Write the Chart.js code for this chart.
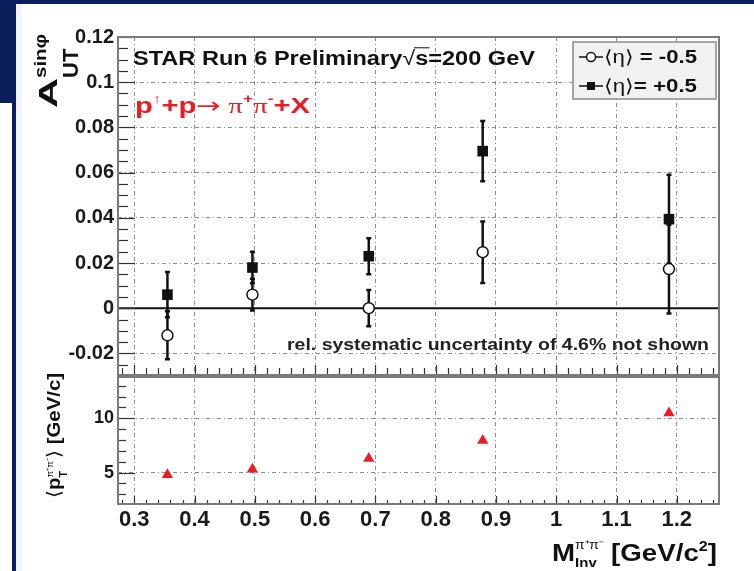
<!DOCTYPE html>
<html>
<head>
<meta charset="utf-8">
<script src="https://cdn.jsdelivr.net/npm/chart.js@4.4.1/dist/chart.umd.min.js"></script>
<style>
  html, body { margin: 0; padding: 0; background: #fff; }
  canvas { display: block; }
</style>
</head>
<body>
<canvas id="asym" width="754" height="571"></canvas>
<script>
// ---- data ----
const massBins = [0.355, 0.496, 0.689, 0.878, 1.187];          // M_inv [GeV/c^2]
const etaLabels = ["\u27E8\u03B7\u27E9 = -0.5", "\u27E8\u03B7\u27E9= +0.5"];
const aUTBackward = [-0.012, 0.006, 0.000, 0.0248, 0.0173];     // <eta> = -0.5
const errBackward = [0.0106, 0.007, 0.008, 0.0136, 0.0196];
const aUTForward = [0.006, 0.018, 0.023, 0.0695, 0.0394];       // <eta> = +0.5
const errForward = [0.010, 0.007, 0.008, 0.0133, 0.0196];
const meanPt = [4.8, 5.3, 6.3, 7.95, 10.5];                      // <pT> [GeV/c]
const xTickStep = 0.1;
const yTopTickStep = 0.02;
const yBotTickStep = 5;

const FONT = '"Liberation Sans", Arial, Helvetica, sans-serif';
const SERIF = '"Liberation Serif", "Times New Roman", serif';
const GRID = "#8c8c8c";
const RED = "#ea1c24";
const NAVY = "#0b1f5c";

const fmt = v => String(+(+v).toFixed(3));
const pts = (xs, ys) => xs.map((x, i) => ({ x: x, y: ys[i] }));

// draw a run of text pieces (sub/superscripts), optionally rotated
function richText(ctx, parts, o) {
  ctx.save();
  ctx.translate(o.x, o.y);
  if (o.rot) ctx.rotate(o.rot);
  const fontOf = p => (p.bold === false ? "" : "bold ") + (p.size || o.size) + "px " + (p.family || FONT);
  let natural = 0;
  parts.forEach(p => {
    ctx.font = fontOf(p);
    p._w = ctx.measureText(p.t).width * (p.sx || 1);
    if (!p.keep) natural += p._w;
  });
  const sx = o.len ? o.len / natural : 1;
  ctx.scale(sx, 1);
  ctx.textBaseline = "alphabetic";
  ctx.textAlign = "left";
  let cx = 0;
  parts.forEach(p => {
    ctx.font = fontOf(p);
    ctx.fillStyle = p.color || o.color || "#111";
    ctx.save();
    ctx.translate(cx, p.dy || 0);
    ctx.scale(p.sx || 1, 1);
    ctx.fillText(p.t, 0, 0);
    if (p.over) {
      const s = p.size || o.size;
      ctx.strokeStyle = ctx.fillStyle;
      ctx.lineWidth = 1;
      ctx.beginPath();
      ctx.moveTo(-1, -s * 0.86);
      ctx.lineTo(p._w + 1, -s * 0.86);
      ctx.stroke();
    }
    ctx.restore();
    if (!p.keep) cx += p._w;
  });
  ctx.restore();
}

// slide background around the figure
const backdrop = {
  id: "backdrop",
  beforeDraw(chart) {
    const ctx = chart.ctx;
    ctx.save();
    ctx.fillStyle = "#fff";
    ctx.fillRect(0, 0, chart.width, chart.height);
    ctx.fillStyle = "#f3f3f3";
    ctx.fillRect(16, 4, 6, chart.height - 4);
    ctx.fillStyle = NAVY;
    ctx.fillRect(0, 0, chart.width, 4);
    ctx.fillRect(0, 0, 16, 103);
    ctx.fillRect(12, 103, 4, chart.height - 103);
    ctx.restore();
  }
};

// zero line and error bars under the markers
const errorBars = {
  id: "errorBars",
  beforeDatasetsDraw(chart) {
    const { ctx, chartArea: ca, scales } = chart;
    const y = scales.yTop, x = scales.x;
    ctx.save();
    ctx.strokeStyle = "#111";
    ctx.lineWidth = 2;
    const y0 = y.getPixelForValue(0);
    ctx.beginPath();
    ctx.moveTo(ca.left, y0);
    ctx.lineTo(ca.right, y0);
    ctx.stroke();
    const bars = [[aUTBackward, errBackward], [aUTForward, errForward]];
    ctx.lineWidth = 2.5;
    bars.forEach(([vals, errs]) => {
      vals.forEach((v, i) => {
        const px = x.getPixelForValue(massBins[i]);
        const hi = y.getPixelForValue(v + errs[i]);
        const lo = y.getPixelForValue(v - errs[i]);
        ctx.beginPath();
        ctx.moveTo(px, hi); ctx.lineTo(px, lo);
        ctx.moveTo(px - 2.5, hi); ctx.lineTo(px + 2.5, hi);
        ctx.moveTo(px - 2.5, lo); ctx.lineTo(px + 2.5, lo);
        ctx.stroke();
      });
    });
    ctx.restore();
  }
};

// ROOT style frames with inward ticks
const frames = {
  id: "frames",
  afterDraw(chart) {
    const { ctx, chartArea: ca, scales } = chart;
    const { x, yTop, yBot } = scales;
    ctx.save();
    ctx.strokeStyle = "#333";
    ctx.lineWidth = 1.2;
    const yTicks = (sc, minor, major, lMaj, lMin) => {
      const start = Math.ceil(sc.min / minor - 1e-6) * minor;
      for (let v = start; v <= sc.max + 1e-9; v += minor) {
        const isMaj = Math.abs(v / major - Math.round(v / major)) < 1e-6;
        const py = Math.round(sc.getPixelForValue(v)) + 0.5;
        ctx.beginPath();
        ctx.moveTo(ca.left, py);
        ctx.lineTo(ca.left + (isMaj ? lMaj : lMin), py);
        ctx.stroke();
      }
    };
    const xTicks = (base, minor, major, lMaj, lMin) => {
      const start = Math.ceil(x.min / minor - 1e-6) * minor;
      for (let v = start; v <= x.max + 1e-9; v += minor) {
        const isMaj = Math.abs(v / major - Math.round(v / major)) < 1e-6;
        const px = Math.round(x.getPixelForValue(v)) + 0.5;
        ctx.beginPath();
        ctx.moveTo(px, base);
        ctx.lineTo(px, base - (isMaj ? lMaj : lMin));
        ctx.stroke();
      }
    };
    yTicks(yTop, 0.005, yTopTickStep, 17, 10);
    yTicks(yBot, 1, yBotTickStep, 17, 8);
    xTicks(yTop.bottom - 2, 0.02, xTickStep, 9, 6);
    xTicks(yBot.bottom, 0.02, xTickStep, 8, 4);

    ctx.strokeStyle = "#7a7a7a";
    ctx.lineWidth = 2;
    ctx.strokeRect(ca.left, ca.top, ca.right - ca.left, ca.bottom - ca.top);
    ctx.lineWidth = 4;
    ctx.beginPath();
    ctx.moveTo(ca.left, yTop.bottom);
    ctx.lineTo(ca.right, yTop.bottom);
    ctx.stroke();
    ctx.restore();
  }
};

// labels, legend and axis titles
const annotations = {
  id: "annotations",
  afterDraw(chart) {
    const ctx = chart.ctx;
    richText(ctx, [
      { t: "STAR Run 6 Preliminary" },
      { t: "\u221A", bold: false },
      { t: "s", over: true },
      { t: "=200 GeV" }
    ], { x: 133, y: 65, size: 20, len: 402 });

    richText(ctx, [
      { t: "p" },
      { t: "\u2191", size: 13, dy: -10, bold: false },
      { t: "+p" },
      { t: "\u2192", bold: false, family: '"DejaVu Sans"' },
      { t: " \u03C0", bold: false, family: SERIF },
      { t: "+", size: 13, dy: -10 },
      { t: "\u03C0", bold: false, family: SERIF },
      { t: "-", size: 13, dy: -10 },
      { t: "+X" }
    ], { x: 135, y: 113, size: 22, len: 175, color: RED });

    richText(ctx, [{ t: "rel. systematic uncertainty of 4.6% not shown" }],
      { x: 287, y: 350, size: 16, len: 422, color: "#222" });

    // legend box
    ctx.save();
    ctx.fillStyle = "#f1f1f1";
    ctx.strokeStyle = "#8a8a8a";
    ctx.lineWidth = 1.5;
    ctx.fillRect(573, 42, 143, 57);
    ctx.strokeRect(573, 42, 143, 57);
    ctx.strokeStyle = "#111";
    ctx.lineWidth = 1.5;
    [57, 86].forEach(ly => {
      ctx.beginPath(); ctx.moveTo(579, ly); ctx.lineTo(603, ly); ctx.stroke();
    });
    ctx.fillStyle = "#fff";
    ctx.beginPath(); ctx.arc(591, 57, 4.5, 0, Math.PI * 2); ctx.fill(); ctx.stroke();
    ctx.fillStyle = "#111";
    ctx.fillRect(587, 82, 8, 8);
    ctx.restore();
    etaLabels.forEach((lab, i) => {
      const cut = lab.indexOf("\u27E9") + 1;
      richText(ctx, [
        { t: lab.slice(0, cut), bold: false },
        { t: lab.slice(cut) }
      ], { x: 604, y: 63 + i * 29, size: 18, len: 93 });
    });

    // y title, upper panel
    richText(ctx, [
      { t: "A", size: 26, sx: 1.6 },
      { t: "UT", size: 22, dy: 21, keep: true },
      { t: "sin\u03C6", size: 17, dy: -11, sx: 1.2 }
    ], { x: 57, y: 108, rot: -Math.PI / 2 });

    // y title, lower panel
    richText(ctx, [
      { t: "\u27E8", bold: false, family: '"DejaVu Sans"' },
      { t: "p" },
      { t: "T", size: 10, dy: 7, keep: true },
      { t: "\u03C0\u207A\u03C0\u207B", size: 9, dy: -7, bold: false },
      { t: "\u27E9", bold: false, family: '"DejaVu Sans"' },
      { t: " [GeV/c]" }
    ], { x: 60, y: 498, rot: -Math.PI / 2, size: 19, len: 125 });

    // x title
    richText(ctx, [
      { t: "M" },
      { t: "Inv", size: 13, dy: 6, keep: true },
      { t: "\u03C0\u207A\u03C0\u207B", size: 12, dy: -12, bold: false },
      { t: " [GeV/c" },
      { t: "2", size: 14, dy: -10 },
      { t: "]" }
    ], { x: 552, y: 561, size: 24, len: 165 });
  }
};

const gridDash = [4, 3, 1, 3];

new Chart(document.getElementById("asym"), {
  type: "scatter",
  data: {
    datasets: [
      {
        label: etaLabels[0],
        data: pts(massBins, aUTBackward),
        yAxisID: "yTop",
        pointStyle: "circle",
        pointRadius: 5.5,
        pointBackgroundColor: "#fff",
        pointBorderColor: "#111",
        pointBorderWidth: 1.5
      },
      {
        label: etaLabels[1],
        data: pts(massBins, aUTForward),
        yAxisID: "yTop",
        pointStyle: "rect",
        pointRadius: 7.5,
        pointBackgroundColor: "#111",
        pointBorderColor: "#111",
        pointBorderWidth: 0
      },
      {
        label: "<pT>",
        data: pts(massBins, meanPt),
        yAxisID: "yBot",
        pointStyle: "triangle",
        pointRadius: 6.5,
        pointBackgroundColor: RED,
        pointBorderColor: RED,
        pointBorderWidth: 0
      }
    ]
  },
  options: {
    responsive: false,
    devicePixelRatio: 1,
    animation: false,
    layout: { padding: { left: 0, top: 37, right: 35, bottom: 0 } },
    plugins: {
      legend: { display: false },
      tooltip: { enabled: false }
    },
    scales: {
      x: {
        type: "linear",
        min: 0.273,
        max: 1.27,
        afterFit: s => { s.height = 67; },
        ticks: {
          stepSize: xTickStep,
          includeBounds: false,
          autoSkip: false,
          maxRotation: 0,
          padding: 3,
          color: "#1a1a1a",
          font: { family: FONT, size: 22, weight: "bold" },
          callback: fmt
        },
        grid: { color: GRID, lineWidth: 1, drawTicks: false },
        border: { display: false, dash: gridDash }
      },
      // lower panel listed first: the stack is filled bottom-up
      yBot: {
        type: "linear",
        position: "left",
        stack: "panels",
        stackWeight: 128,
        min: 2.1,
        max: 13.9,
        afterFit: s => { s.width = 118; },
        ticks: {
          stepSize: yBotTickStep,
          includeBounds: false,
          padding: 4,
          color: "#1a1a1a",
          font: { family: FONT, size: 18, weight: "bold" },
          callback: fmt
        },
        grid: { color: GRID, lineWidth: 1, drawTicks: false },
        border: { display: false, dash: gridDash }
      },
      yTop: {
        type: "linear",
        position: "left",
        stack: "panels",
        stackWeight: 339,
        min: -0.03,
        max: 0.12,
        afterFit: s => { s.width = 118; },
        ticks: {
          stepSize: yTopTickStep,
          includeBounds: false,
          padding: 4,
          color: "#1a1a1a",
          font: { family: FONT, size: 20, weight: "bold" },
          callback: fmt
        },
        grid: { color: GRID, lineWidth: 1, drawTicks: false },
        border: { display: false, dash: gridDash }
      }
    }
  },
  plugins: [backdrop, errorBars, frames, annotations]
});
</script>
</body>
</html>
